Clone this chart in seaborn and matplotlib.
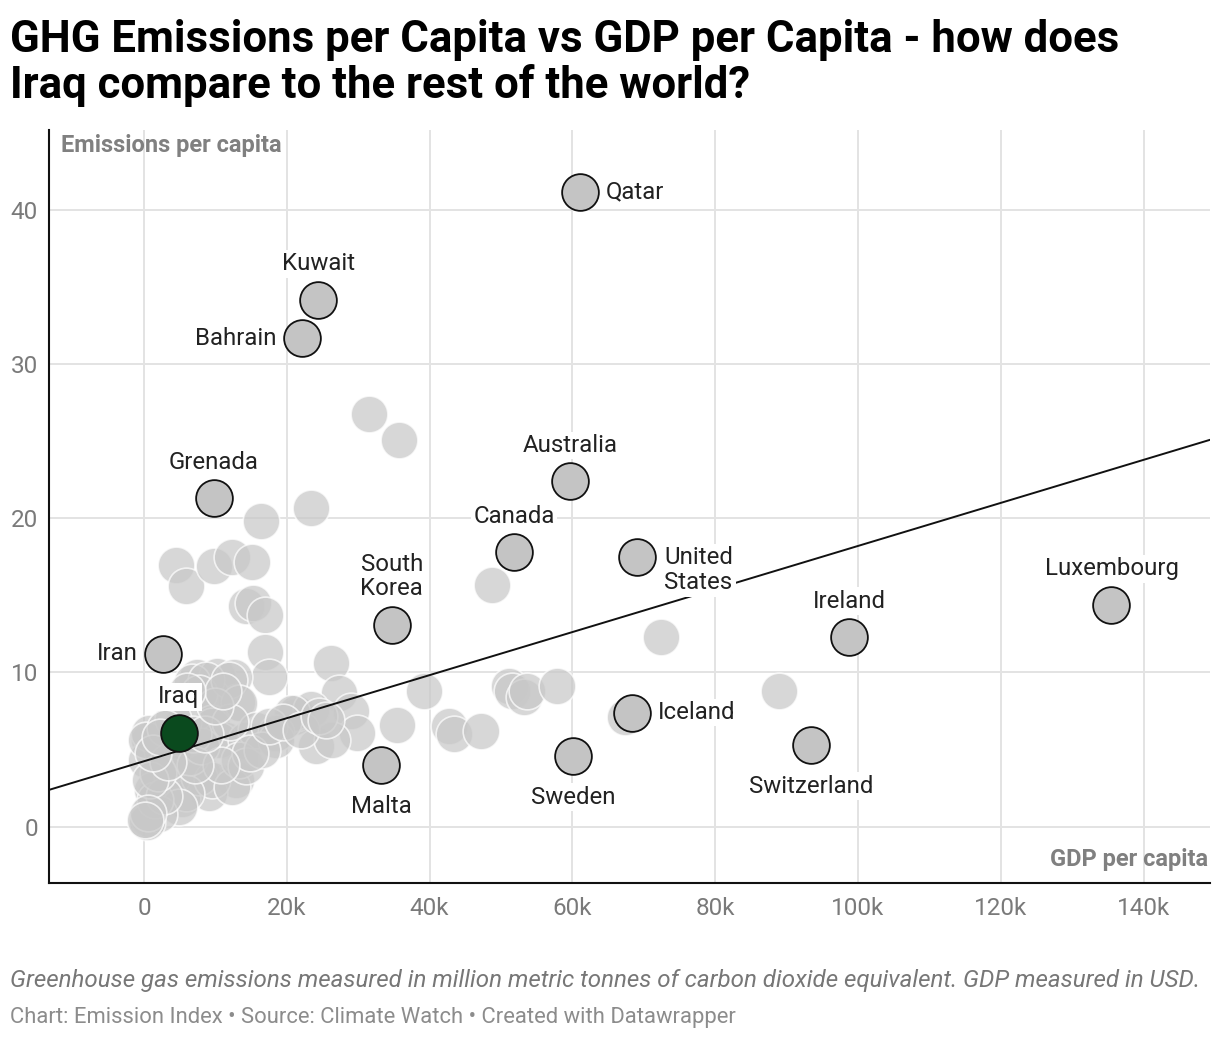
import matplotlib
matplotlib.use("Agg")
import matplotlib.pyplot as plt
import seaborn as sns
import pandas as pd
from matplotlib.ticker import FuncFormatter, FixedLocator

# ---------------- data ----------------
# highlighted / labelled countries: GDP per capita (USD), emissions per capita
label_names = ["Qatar", "Kuwait", "Bahrain", "Grenada", "Australia", "Canada",
               "United States", "South Korea", "Iran", "Malta", "Sweden",
               "Iceland", "Switzerland", "Ireland", "Luxembourg"]
label_gdp = [61000, 24400, 22100, 9800, 59700, 51800, 69100, 34700, 2700,
             33200, 60100, 68300, 93400, 98800, 135500]
label_emis = [41.2, 34.2, 31.7, 21.3, 22.4, 17.8, 17.5, 13.1, 11.2,
              4.0, 4.6, 7.4, 5.3, 12.3, 14.4]

focus_name = "Iraq"
focus_gdp = [4900]
focus_emis = [6.1]

# other countries (unlabelled)
other_gdp = [31500, 35700, 23400, 16400, 4500, 5900, 9800, 12300, 15100,
             14300, 15300, 16900, 16900, 17500, 26200, 48700, 72400, 89000,
             39200, 27300, 29000, 29800, 35400, 24100, 26300, 42700, 43400,
             47200, 51100, 51600, 53200, 53600, 57800, 67400, 21000, 21300,
             23400, 20700,
             7400, 10200, 12600, 13000, 9500, 6700, 8700, 7700, 11900, 13300,
             9500, 9500, 11500, 10500, 14300, 15700, 18500, 18500,
             700, 300, 3900, 2500, 700, 300,
             3900, 8100, 12900, 9100, 5300, 1700, 1100, 700, 1100, 3900, 7700,
             9500, 12300, 13300, 14300, 5900, 4900, 2100, 400, 1500, 2800,
             6500, 8000, 5500, 4000, 3000, 6800, 12000, 16500, 14800, 10800,
             7200, 2000, 800, 17500, 19500, 22000, 24500, 25500, 8500, 10000,
             11000, 6000, 3300, 1300, 2200, 600, 200]
other_emis = [26.8, 25.1, 20.7, 19.8, 17.0, 15.6, 16.9, 17.5, 17.2,
              14.3, 14.5, 13.7, 11.3, 9.7, 10.6, 15.7, 12.3, 8.8,
              8.8, 8.7, 7.5, 6.1, 6.6, 5.2, 5.6, 6.5, 6.0,
              6.2, 9.1, 8.8, 8.4, 8.8, 9.1, 7.1, 7.1, 7.4,
              7.6, 7.4,
              9.7, 9.8, 9.7, 8.1, 8.4, 9.4, 9.5, 8.7, 9.5, 8.0,
              6.7, 6.5, 5.6, 5.6, 5.6, 6.3, 6.1, 5.6,
              5.6, 4.3, 5.0, 5.0, 6.1, 5.6,
              3.5, 3.5, 3.0, 2.2, 1.8, 2.2, 1.3, 0.5, 2.4, 3.2, 3.2,
              3.0, 2.6, 4.3, 3.9, 2.2, 1.3, 0.8, 0.3, 1.7, 2.0,
              4.5, 5.2, 6.8, 7.0, 6.4, 6.0, 6.8, 5.0, 4.8, 4.0,
              4.0, 3.5, 3.0, 6.5, 6.8, 6.3, 7.2, 6.9, 6.0, 7.8,
              8.8, 8.8, 4.2, 4.8, 5.8, 0.9, 0.4]

# trend line (emissions = a + b * GDP)
trend_intercept = 4.24
trend_slope = 0.1397 / 1000

x_ticks = [0, 20000, 40000, 60000, 80000, 100000, 120000, 140000]
y_ticks = [0, 10, 20, 30, 40]

title = "GHG Emissions per Capita vs GDP per Capita - how does\nIraq compare to the rest of the world?"
note = "Greenhouse gas emissions measured in million metric tonnes of carbon dioxide equivalent. GDP measured in USD."
source = "Chart: Emission Index \u2022 Source: Climate Watch \u2022 Created with Datawrapper"

# ---------------- style ----------------
sns.set_theme(style="white")
plt.rcParams["font.family"] = ["Roboto", "DejaVu Sans"]

others = pd.DataFrame({"gdp": other_gdp, "emis": other_emis})
labelled = pd.DataFrame({"country": label_names, "gdp": label_gdp, "emis": label_emis})
focus = pd.DataFrame({"country": [focus_name], "gdp": focus_gdp, "emis": focus_emis})

W, H, DPI = 1220, 1038, 100
fig = plt.figure(figsize=(W / DPI, H / DPI), dpi=DPI)
ax = fig.add_axes([49 / W, 1 - 883 / H, (1210 - 49) / W, (883 - 130) / H])

S = 700
sns.scatterplot(data=others, x="gdp", y="emis", ax=ax, s=S, color="#c8c8c8",
                alpha=0.72, edgecolor="white", linewidth=1.2, zorder=3, legend=False)
ax.axline((0, trend_intercept), slope=trend_slope, color="#111111", lw=1.4, zorder=4)
sns.scatterplot(data=labelled, x="gdp", y="emis", ax=ax, s=S, color="#c4c4c4",
                edgecolor="#111111", linewidth=1.3, zorder=5, legend=False)
sns.scatterplot(data=focus, x="gdp", y="emis", ax=ax, s=S, color="#0a4a1e",
                edgecolor="#111111", linewidth=1.3, zorder=6, legend=False)

ax.set_xlim(-13300, 149300)
ax.set_ylim(-3.66, 45.2)
ax.xaxis.set_major_locator(FixedLocator(x_ticks))
ax.yaxis.set_major_locator(FixedLocator(y_ticks))
ax.xaxis.set_major_formatter(FuncFormatter(lambda v, p: "0" if v == 0 else f"{int(v/1000)}k"))
ax.yaxis.set_major_formatter(FuncFormatter(lambda v, p: f"{int(v)}"))
ax.tick_params(axis="both", length=0, labelsize=17.5, labelcolor="#7a7a7a")
ax.tick_params(axis="x", pad=10)
ax.tick_params(axis="y", pad=8)
ax.grid(True, color="#e3e3e3", lw=1.4)
ax.set_axisbelow(True)
for s in ["top", "right"]:
    ax.spines[s].set_visible(False)
for s in ["left", "bottom"]:
    ax.spines[s].set_color("#111111")
    ax.spines[s].set_linewidth(1.5)
ax.set_xlabel("")
ax.set_ylabel("")

ax.text(0.0105, 0.980, "Emissions per capita", transform=ax.transAxes, ha="left",
        va="center", fontsize=17, fontweight="bold", color="#808080")
ax.text(0.998, 0.031, "GDP per capita", transform=ax.transAxes, ha="right",
        va="center", fontsize=17, fontweight="bold", color="#808080")

# label placement (style only)
place = {
    "Qatar": "right", "Kuwait": "above", "Bahrain": "left", "Grenada": "above",
    "Australia": "above", "Canada": "above", "United States": "right2",
    "South Korea": "above2", "Iran": "left", "Malta": "below", "Sweden": "below",
    "Iceland": "right", "Switzerland": "below", "Ireland": "above",
    "Luxembourg": "above", "Iraq": "above",
}
bb = dict(boxstyle="square,pad=0.1", fc="white", ec="none")
all_lab = list(zip(label_names, label_gdp, label_emis)) + [(focus_name, focus_gdp[0], focus_emis[0])]
for name, gx, ey in all_lab:
    p = place[name]
    txt = name
    kw = dict(ha="center", va="center")
    off = (0, 0)
    if p == "right":
        off, kw = (19, 0), dict(ha="left", va="center")
    elif p == "left":
        off, kw = (-18, 0), dict(ha="right", va="center")
    elif p == "above":
        off, kw = (0, 17.5), dict(ha="center", va="bottom")
    elif p == "below":
        off, kw = (0, -21.5), dict(ha="center", va="top")
    elif p == "right2":
        txt = "United\nStates"
        off, kw = (19.5, 7.5), dict(ha="left", va="top", multialignment="left")
    elif p == "above2":
        txt = "South\nKorea"
        off, kw = (0, 17.5), dict(ha="center", va="bottom", multialignment="center")
    ax.annotate(txt, xy=(gx, ey), xytext=off, textcoords="offset points",
                fontsize=17.3, color="#222222", bbox=bb, zorder=7,
                linespacing=1.1, **kw)

fig.text(10 / W, 1 - 19 / H, title, ha="left", va="top", fontsize=31.5,
         fontweight="bold", color="#000000", linespacing=1.08)
fig.text(10 / W, 1 - 980 / H, note, ha="left", va="center", fontsize=17.4,
         style="italic", color="#777777")
fig.text(10 / W, 1 - 1017 / H, source, ha="left", va="center", fontsize=15.8,
         color="#8c8c8c")

fig.savefig("out.png", dpi=DPI)
